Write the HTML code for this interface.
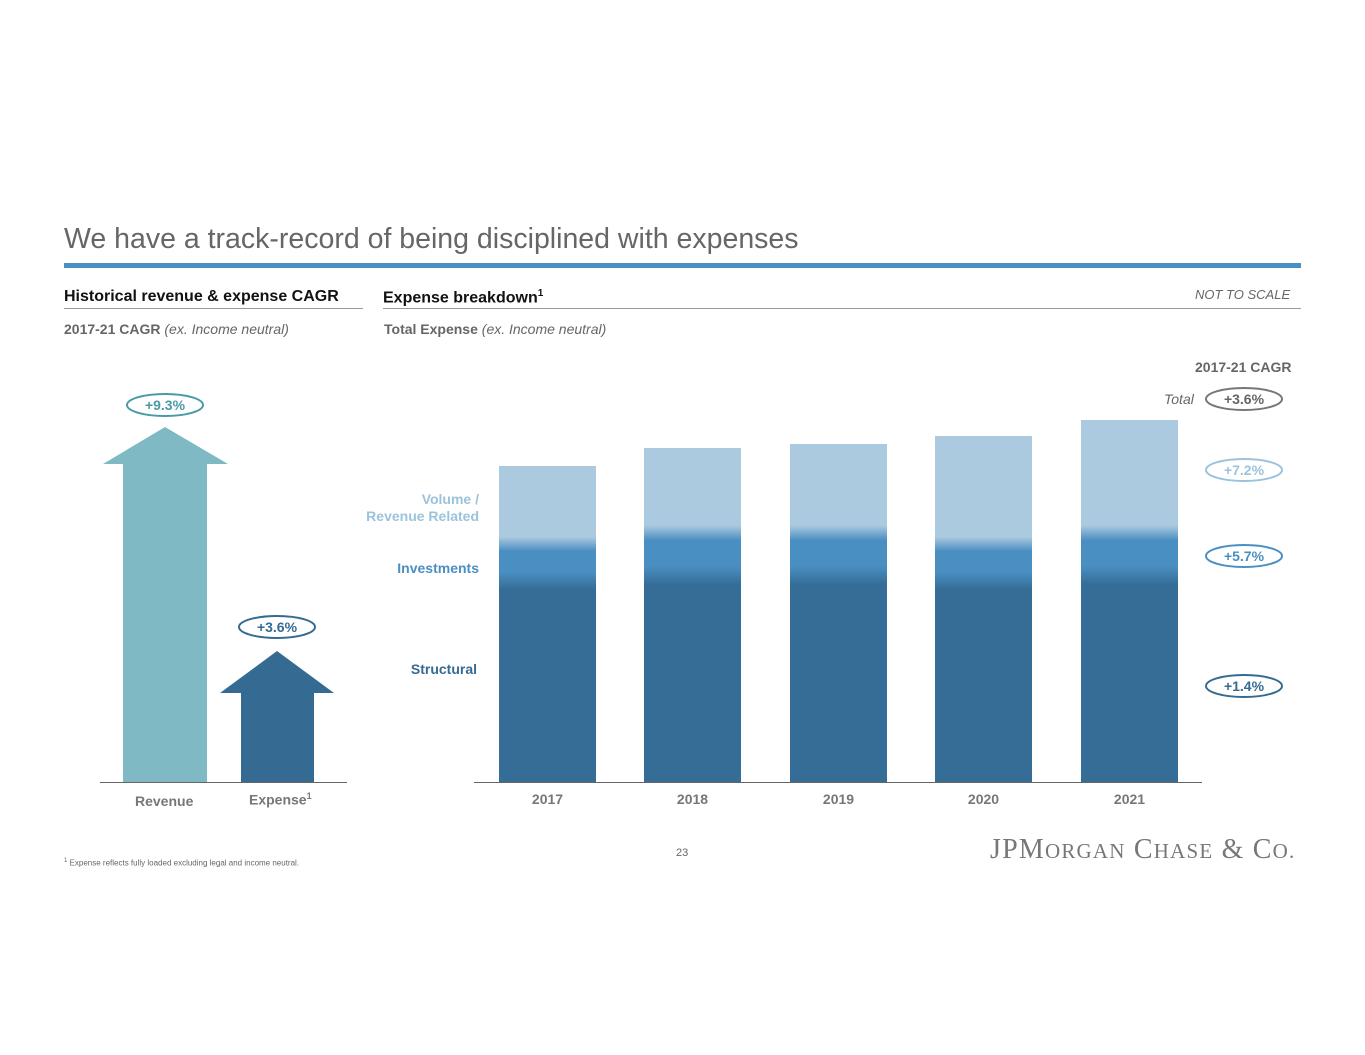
<!DOCTYPE html>
<html><head><style>
body{margin:0;background:#fff;font-family:"Liberation Sans",Arial,sans-serif;}
.t{position:absolute;white-space:nowrap;}
</style></head><body>
<div style="position:relative;width:1365px;height:1055px;overflow:hidden">
<div class="t" style="left:64px;top:223px;font-size:28.5px;color:#666">We have a track-record of being disciplined with expenses</div>
<div style="position:absolute;left:64px;top:263px;width:1237px;height:5px;background:#4a8fc2"></div>
<div class="t" style="left:64px;top:288px;font-size:16px;font-weight:bold;color:#111">Historical revenue &amp; expense CAGR</div>
<div style="position:absolute;left:64px;top:308px;width:299px;height:1px;background:#999"></div>
<div class="t" style="left:383px;top:288px;font-size:16px;font-weight:bold;color:#111">Expense breakdown<sup style="font-size:10px">1</sup></div>
<div class="t" style="left:1195px;top:287px;font-size:13px;font-style:italic;color:#666">NOT TO SCALE</div>
<div style="position:absolute;left:383px;top:308px;width:918px;height:1px;background:#999"></div>
<div class="t" style="left:64px;top:321px;font-size:14px;color:#666"><b>2017-21 CAGR</b> <i>(ex. Income neutral)</i></div>
<div class="t" style="left:384px;top:321px;font-size:14px;color:#666"><b>Total Expense</b> <i>(ex. Income neutral)</i></div>
<div class="t" style="left:1195px;top:359px;font-size:14px;font-weight:bold;color:#666">2017-21 CAGR</div>
<div class="t" style="left:1164px;top:391px;font-size:14px;font-style:italic;color:#666">Total</div>
<svg width="1365" height="1055" style="position:absolute;left:0;top:0">
<defs>
<linearGradient id="g0" gradientUnits="userSpaceOnUse" x1="0" y1="530" x2="0" y2="600"><stop offset="0.1" stop-color="#abc9df"/><stop offset="0.3" stop-color="#4a8fc2"/><stop offset="0.6" stop-color="#4a8fc2"/><stop offset="0.85" stop-color="#356d96"/></linearGradient>
<linearGradient id="g1" gradientUnits="userSpaceOnUse" x1="0" y1="518" x2="0" y2="592"><stop offset="0.1" stop-color="#abc9df"/><stop offset="0.3" stop-color="#4a8fc2"/><stop offset="0.65" stop-color="#4a8fc2"/><stop offset="0.9" stop-color="#356d96"/></linearGradient>
</defs>
<polygon points="165,427 228,464 207,464 207,782 123,782 123,464 103,464" fill="#7fb9c3"/>
<polygon points="277,651 334,693 314,693 314,782 241,782 241,693 220,693" fill="#356a93"/>
<line x1="100" y1="782.5" x2="347" y2="782.5" stroke="#666"/>
<ellipse cx="165" cy="405" rx="38" ry="11" fill="#fff" stroke="#4a9aa6" stroke-width="2"/>
<ellipse cx="277" cy="627" rx="38" ry="11" fill="#fff" stroke="#356a93" stroke-width="2"/>
<rect x="499" y="466" width="97" height="316" fill="url(#g0)"/>
<rect x="644" y="448" width="97" height="334" fill="url(#g1)"/>
<rect x="790" y="444" width="97" height="338" fill="url(#g1)"/>
<rect x="935" y="436" width="97" height="346" fill="url(#g0)"/>
<rect x="1081" y="420" width="97" height="362" fill="url(#g1)"/>
<line x1="474" y1="782.5" x2="1202" y2="782.5" stroke="#666"/>
<ellipse cx="1244" cy="399" rx="38" ry="11" fill="#fff" stroke="#777" stroke-width="2"/>
<ellipse cx="1244" cy="470" rx="38" ry="11" fill="#fff" stroke="#9cc3dc" stroke-width="2"/>
<ellipse cx="1244" cy="556" rx="38" ry="11" fill="#fff" stroke="#4a8fc2" stroke-width="2"/>
<ellipse cx="1244" cy="686" rx="38" ry="11" fill="#fff" stroke="#356a93" stroke-width="2"/>
</svg>
<div class="t" style="left:126px;top:397px;width:78px;text-align:center;font-size:14px;font-weight:bold;color:#4a9aa6">+9.3%</div>
<div class="t" style="left:238px;top:619px;width:78px;text-align:center;font-size:14px;font-weight:bold;color:#356a93">+3.6%</div>
<div class="t" style="left:1205px;top:391px;width:78px;text-align:center;font-size:14px;font-weight:bold;color:#666">+3.6%</div>
<div class="t" style="left:1205px;top:462px;width:78px;text-align:center;font-size:14px;font-weight:bold;color:#9cc3dc">+7.2%</div>
<div class="t" style="left:1205px;top:548px;width:78px;text-align:center;font-size:14px;font-weight:bold;color:#4a8fc2">+5.7%</div>
<div class="t" style="left:1205px;top:678px;width:78px;text-align:center;font-size:14px;font-weight:bold;color:#356a93">+1.4%</div>
<div class="t" style="left:340px;top:491px;width:139px;text-align:right;font-size:14px;font-weight:bold;color:#9cc3dc;line-height:17px">Volume /<br>Revenue Related</div>
<div class="t" style="left:340px;top:560px;width:139px;text-align:right;font-size:14px;font-weight:bold;color:#4a8fc2">Investments</div>
<div class="t" style="left:340px;top:661px;width:137px;text-align:right;font-size:14px;font-weight:bold;color:#356a93">Structural</div>
<div class="t" style="left:135px;top:793px;font-size:14px;font-weight:bold;color:#777">Revenue</div>
<div class="t" style="left:249px;top:791px;font-size:14px;font-weight:bold;color:#777">Expense<sup style="font-size:9px">1</sup></div>
<div class="t" style="left:499px;top:791px;width:97px;text-align:center;font-size:14px;font-weight:bold;color:#777">2017</div>
<div class="t" style="left:644px;top:791px;width:97px;text-align:center;font-size:14px;font-weight:bold;color:#777">2018</div>
<div class="t" style="left:790px;top:791px;width:97px;text-align:center;font-size:14px;font-weight:bold;color:#777">2019</div>
<div class="t" style="left:935px;top:791px;width:97px;text-align:center;font-size:14px;font-weight:bold;color:#777">2020</div>
<div class="t" style="left:1081px;top:791px;width:97px;text-align:center;font-size:14px;font-weight:bold;color:#777">2021</div>
<div class="t" style="left:676px;top:847px;font-size:11px;color:#666">23</div>
<div class="t" style="left:64px;top:858px;font-size:8px;color:#666"><sup style="font-size:6px">1</sup> Expense reflects fully loaded excluding legal and income neutral.</div>
<div class="t" style="left:990px;top:834px;font-family:'Liberation Serif',serif;font-size:28px;color:#777;letter-spacing:1.2px">JP<span>M</span><span style="font-size:21px">ORGAN</span> C<span style="font-size:21px">HASE</span> &amp; C<span style="font-size:21px">O.</span></div>
</div>
</body></html>
